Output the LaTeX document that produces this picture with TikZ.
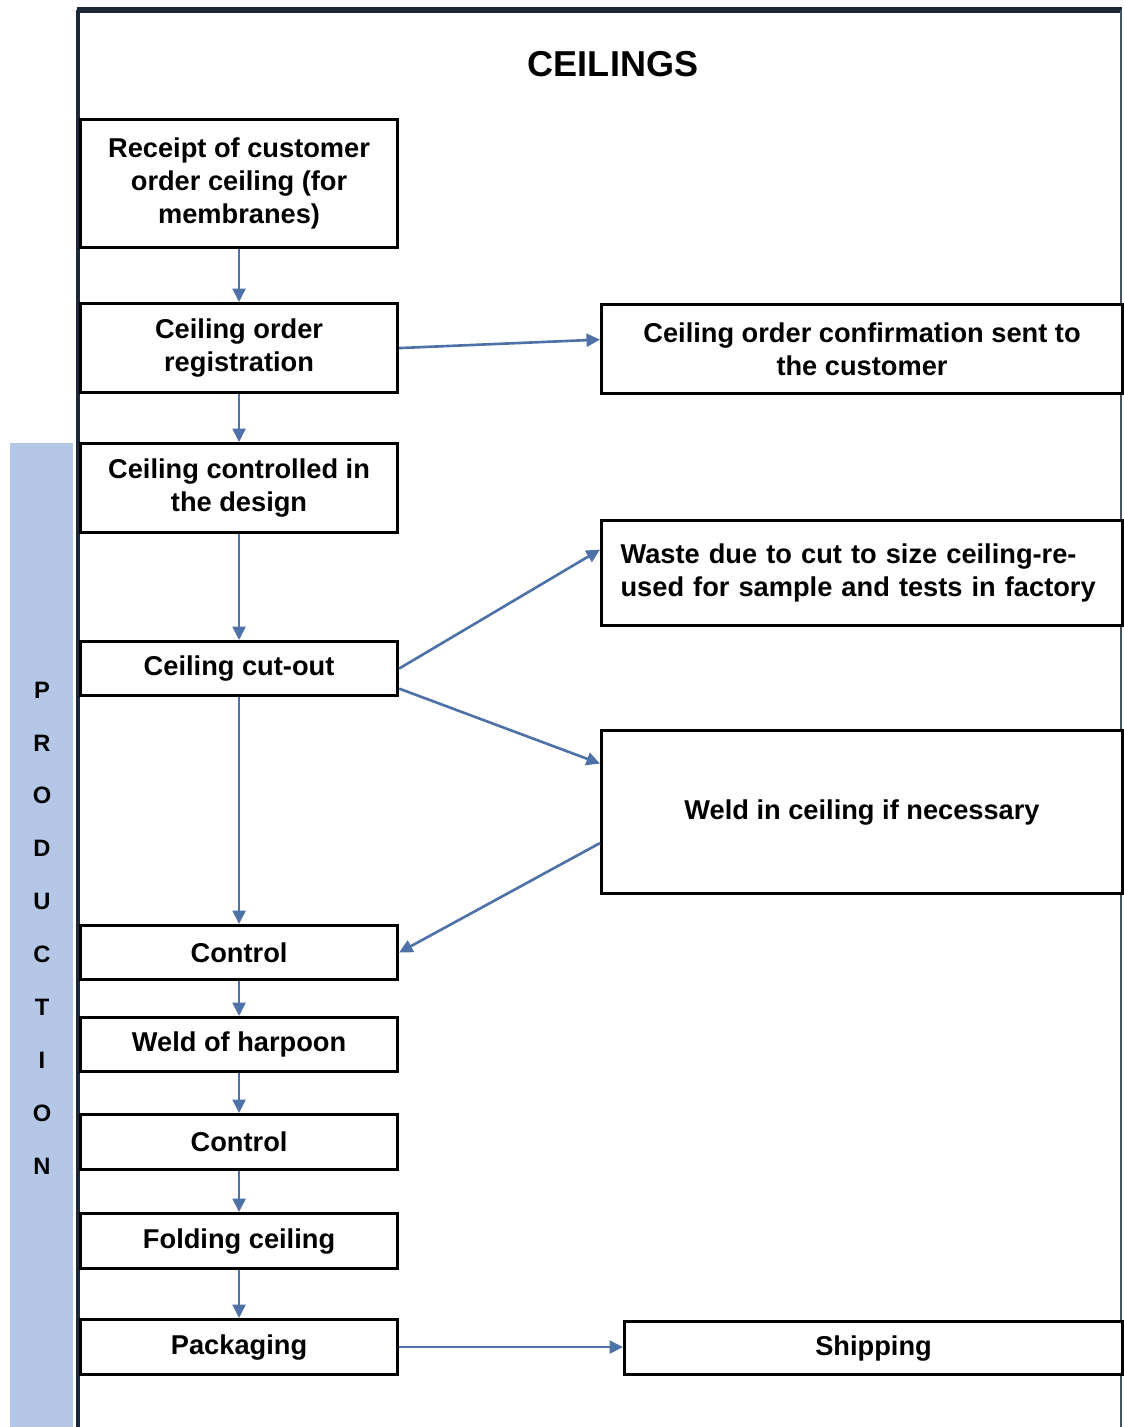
\documentclass[tikz,border=0pt]{standalone}
\usepackage{fontspec}
\setmainfont{Liberation Sans}
\usepackage{tikz}
\usetikzlibrary{calc, arrows.meta}
\definecolor{flowblue}{HTML}{4E72A8}
\definecolor{barblue}{HTML}{B4C7E7}
\definecolor{framenavy}{HTML}{1C2838}
\tikzstyle{stage} = [rectangle, draw=black, line width=1.8pt, fill=white, minimum width=6.34cm, inner sep=2pt, align=center, font=\fontsize{15.5}{19}\selectfont\bfseries]
\tikzstyle{flow} = [draw=flowblue, line width=1.5pt, -{Triangle[length=2.7mm, width=2.6mm]}]

\begin{document}
\begin{tikzpicture}[x=0.02cm, y=-0.02cm]

        \useasboundingbox (0,0) rectangle (1123,1427);

        \fill[barblue] (10,443) rectangle (73,1427);
        \draw[framenavy, line width=2.8pt] (78,1427) -- (78,10);
        \draw[framenavy, line width=3.4pt] (76.5,10) -- (1122,10);
        \draw[framenavy!80, line width=0.9pt] (1121,10) -- (1121,1427);

        \node (title) at (613,64) {\fontsize{20.5}{24}\selectfont\bfseries CEILINGS};

        \foreach \ch [count=\i from 0] in {P,R,O,D,U,C,T,I,O,N}
            \node (prod\i) [font=\fontsize{13.5}{15}\selectfont\bfseries] at (42, 690+52.9*\i) {\ch};

        \node (rcpt) [stage, anchor=north west, minimum height=2.56cm] at (79,118) {Receipt of customer\\order ceiling (for\\membranes)};
        \node (reg) [stage, anchor=north west, minimum height=1.78cm] at (79,302) {Ceiling order\\registration};
        \node (design) [stage, anchor=north west, minimum height=1.78cm] at (79,442) {Ceiling controlled in\\the design};
        \node (cut) [stage, anchor=north west, minimum height=1.08cm] at (79,640) {Ceiling cut-out};
        \node (ctrla) [stage, anchor=north west, minimum height=1.08cm] at (79,924) {Control};
        \node (harpoon) [stage, anchor=north west, minimum height=1.08cm] at (79,1016) {Weld of harpoon};
        \node (ctrlb) [stage, anchor=north west, minimum height=1.1cm] at (79,1113) {Control};
        \node (fold) [stage, anchor=north west, minimum height=1.1cm] at (79,1212) {Folding ceiling};
        \node (pack) [stage, anchor=north west, minimum height=1.1cm] at (79,1318) {Packaging};

        \node (confirm) [stage, anchor=north west, minimum width=10.42cm, minimum height=1.78cm] at (600,303) {Ceiling order confirmation sent to\\the customer};
        \node (waste) [stage, anchor=north west, minimum width=10.42cm, minimum height=2.1cm, text width=9.66cm, inner xsep=0.38cm, align=left] at (600,519) {Waste due to cut to size ceiling-re-\\used for sample and tests in factory};
        \node (weld) [stage, anchor=north west, minimum width=10.42cm, minimum height=3.26cm] at (600,729) {Weld in ceiling if necessary};
        \node (ship) [stage, anchor=north west, minimum width=9.96cm, minimum height=1.06cm] at (623,1320) {Shipping};

        \foreach \a/\b in {rcpt/reg, reg/design, design/cut, cut/ctrla, ctrla/harpoon, harpoon/ctrlb, ctrlb/fold, fold/pack}
            \draw[flow] (\a.south) -- (\b.north);

        \draw[flow] (reg.east) -- ([yshift=0.19cm]confirm.west);
        \draw[flow] (cut.east) -- ([yshift=0.47cm]waste.west);
        \draw[flow] ([yshift=-0.4cm]cut.east) -- ([yshift=0.97cm]weld.west);
        \draw[flow] ([yshift=-0.62cm]weld.west) -- (ctrla.east);
        \draw[flow] (pack.east) -- (pack.east -| ship.west);

    \end{tikzpicture}
\end{document}
